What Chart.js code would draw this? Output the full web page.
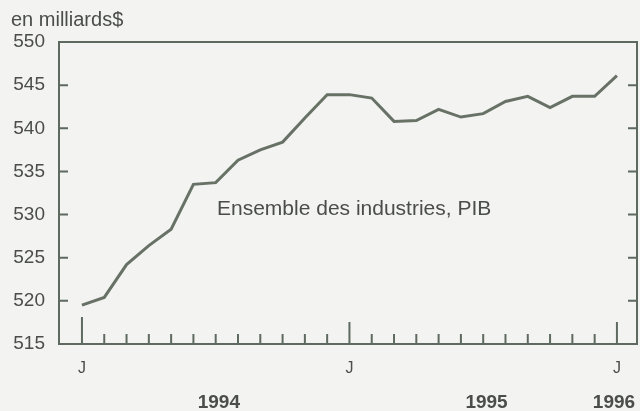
<!DOCTYPE html>
<html><head><meta charset="utf-8">
<script src="https://cdn.jsdelivr.net/npm/chart.js@4/dist/chart.umd.min.js"></script>
<style>html,body{margin:0;padding:0;background:#f3f3f1;}#wrap{width:640px;height:411px;}</style>
</head><body><div id="wrap"><canvas id="c" width="640" height="411"></canvas></div>
<script>
// Monthly, Jan 1994 .. Jan 1996
const monthIndex = [0,1,2,3,4,5,6,7,8,9,10,11,12,13,14,15,16,17,18,19,20,21,22,23,24];
const gdp = [519.5,520.4,524.2,526.4,528.3,533.5,533.7,536.3,537.5,538.4,541.2,543.9,
             543.9,543.5,540.8,540.9,542.2,541.3,541.7,543.1,543.7,542.4,543.7,543.7,546.1];
const yTicks = [515,520,525,530,535,540,545,550];
const majorMonths = [0,12,24];
const majorLabel = 'J';
const yearLabels = ['1994','1995','1996'];
const yearPos = [6.14,18.15,24];
const unitTitle = 'en milliards$';
const seriesLabel = 'Ensemble des industries, PIB';

const INK = '#5e6a5f';
const TXT = '#4a4d4a';
const FONT = '"Liberation Sans", Arial, sans-serif';

const framePlugin = {
  id:'frame',
  afterDraw(chart){
    const {ctx, chartArea:a, scales:{x,y}} = chart;
    ctx.save();
    ctx.strokeStyle = INK; ctx.lineWidth = 2;
    ctx.beginPath();
    ctx.moveTo(a.left, a.top); ctx.lineTo(a.right, a.top); ctx.lineTo(a.right, a.bottom);
    ctx.stroke();
    yTicks.forEach(v=>{
      if(v===515||v===550) return;
      const py = y.getPixelForValue(v);
      ctx.beginPath();
      ctx.moveTo(a.left, py); ctx.lineTo(a.left+9, py);
      ctx.moveTo(a.right, py); ctx.lineTo(a.right-9, py);
      ctx.stroke();
    });
    monthIndex.forEach(i=>{
      const px = x.getPixelForValue(i);
      let len = 10;
      if(majorMonths.includes(i)) len = (i===0)?27:22;
      ctx.beginPath();
      ctx.moveTo(px, a.bottom); ctx.lineTo(px, a.bottom-len);
      ctx.stroke();
    });
    ctx.fillStyle = TXT;
    ctx.textBaseline = 'alphabetic';
    ctx.textAlign = 'left';
    ctx.font = '20px ' + FONT;
    ctx.fillText(unitTitle, 11, 26);
    ctx.font = '21px ' + FONT;
    ctx.fillText(seriesLabel, 217, 215);
    ctx.font = 'bold 19px ' + FONT;
    ctx.textAlign = 'center';
    yearLabels.forEach((t,k)=>{
      ctx.fillText(t, Math.min(x.getPixelForValue(yearPos[k]), 614), 408);
    });
    ctx.restore();
  }
};

new Chart(document.getElementById('c'), {
  type:'line',
  data:{ datasets:[{
    data: monthIndex.map((m,i)=>({x:m, y:gdp[i]})),
    borderColor:'#687166', borderWidth:3, pointRadius:0, tension:0, fill:false
  }]},
  options:{
    responsive:false, animation:false, devicePixelRatio:1,
    layout:{padding:{top:42,right:3,left:0,bottom:0}},
    plugins:{legend:{display:false}, tooltip:{enabled:false}},
    scales:{
      x:{type:'linear', min:-1.03, max:24.9,
         grid:{display:false, drawTicks:false},
         border:{display:true, color:INK, width:2},
         afterBuildTicks(s){ s.ticks = majorMonths.map(v=>({value:v})); },
         afterFit(s){ s.height = 67; },
         ticks:{callback:()=>majorLabel, color:TXT, font:{family:FONT,size:16}, padding:15, maxRotation:0, autoSkip:false}
      },
      y:{min:515, max:550,
         grid:{display:false, drawTicks:false},
         border:{display:true, color:INK, width:2},
         afterBuildTicks(s){ s.ticks = yTicks.map(v=>({value:v})); },
         afterFit(s){ s.width = 59; },
         ticks:{color:TXT, font:{family:FONT,size:19}, padding:14}
      }
    }
  },
  plugins:[framePlugin]
});
</script></body></html>
